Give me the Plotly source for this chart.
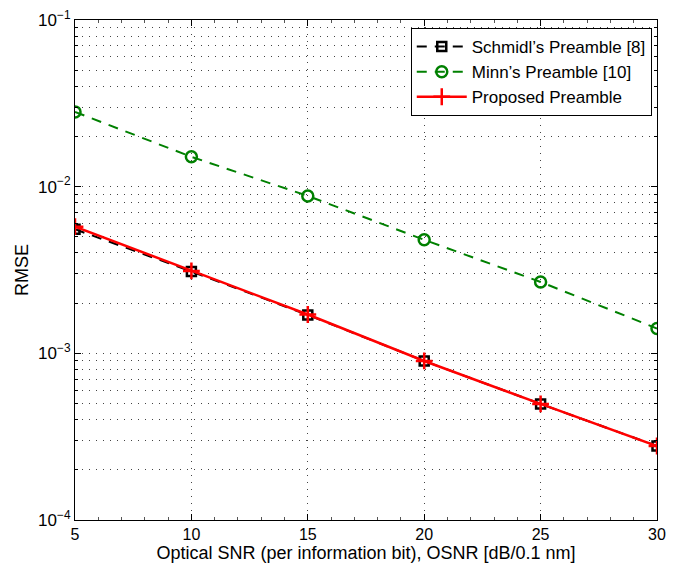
import plotly.graph_objects as go

osnr = [5, 10, 15, 20, 25, 30]
schmidl = [0.00555, 0.00310, 0.00170, 0.00090, 0.000497, 0.000278]
minn = [0.0281, 0.0151, 0.0088, 0.0048, 0.00268, 0.00141]
proposed = [0.00575, 0.00312, 0.00171, 0.00090, 0.000497, 0.000278]

x_ticks = [5, 10, 15, 20, 25, 30]
y_ticks = [1e-4, 1e-3, 1e-2, 1e-1]
y_tick_text = ["10<sup>−4</sup>", "10<sup>−3</sup>", "10<sup>−2</sup>", "10<sup>−1</sup>"]
y_minor = [m * 10 ** e for e in (-4, -3, -2) for m in range(2, 10)]

FONT = "Liberation Sans, Arial, Helvetica, sans-serif"
GRID = "1px,6px"

fig = go.Figure()
fig.add_trace(go.Scatter(
    x=osnr, y=schmidl, name="Schmidl’s Preamble [8]", mode="lines+markers",
    line=dict(color="black", width=2, dash="10px,8px"),
    marker=dict(symbol="square-open", size=9, color="black", line=dict(width=2.5)),
))
fig.add_trace(go.Scatter(
    x=osnr, y=minn, name="Minn’s Preamble [10]", mode="lines+markers",
    line=dict(color="#008000", width=2, dash="10px,8px"),
    marker=dict(symbol="circle-open", size=11, color="#008000", line=dict(width=2.5)),
))
fig.add_trace(go.Scatter(
    x=osnr, y=proposed, name="Proposed Preamble", mode="lines+markers",
    line=dict(color="#ff0000", width=2.5),
    marker=dict(symbol="cross-thin-open", size=12, color="#ff0000", line=dict(width=2.5, color="#ff0000")),
))

fig.update_layout(
    width=678, height=567,
    margin=dict(l=75, r=21, t=20, b=47),
    paper_bgcolor="white", plot_bgcolor="white",
    font=dict(family=FONT, size=16, color="black"),
    showlegend=True,
    legend=dict(
        x=0.991, y=0.984, xanchor="right", yanchor="top",
        bgcolor="white", bordercolor="black", borderwidth=1,
        font=dict(family=FONT, size=17, color="black"),
        itemwidth=50, tracegroupgap=0,
    ),
    xaxis=dict(
        range=[5, 30], tickvals=x_ticks, ticks="inside", ticklen=6, tickcolor="black",
        showline=True, linecolor="black", linewidth=1, mirror="allticks",
        showgrid=True, gridcolor="#444", griddash=GRID, gridwidth=1,
        zeroline=False, automargin=False,
        title=dict(text="Optical SNR (per information bit), OSNR [dB/0.1 nm]", standoff=2,
                   font=dict(size=18)),
        tickfont=dict(size=16),
        minor=dict(dtick=1, ticks="inside", ticklen=3, tickcolor="#555", showgrid=False),
    ),
    yaxis=dict(
        type="log", range=[-4, -1], tickvals=y_ticks, ticktext=y_tick_text,
        ticks="inside", ticklen=6, tickcolor="black",
        showline=True, linecolor="black", linewidth=1, mirror="allticks",
        showgrid=True, gridcolor="#444", griddash=GRID, gridwidth=1,
        zeroline=False, automargin=False,
        title=dict(text="RMSE", standoff=4, font=dict(size=18)),
        tickfont=dict(size=17),
        minor=dict(tickvals=y_minor, ticks="inside", ticklen=3, tickcolor="black",
                   showgrid=True, gridcolor="#444", griddash=GRID, gridwidth=1),
    ),
)

fig.write_html("out.html")
